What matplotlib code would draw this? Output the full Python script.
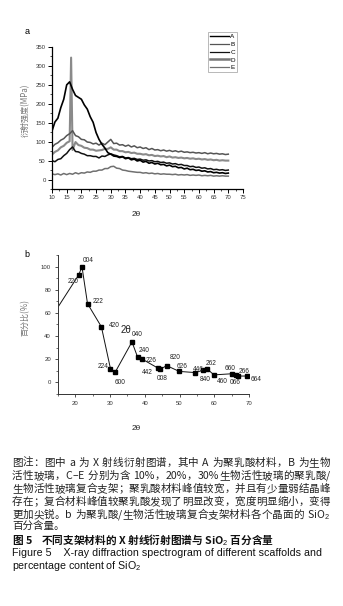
import re
import matplotlib
matplotlib.use("Agg")
import matplotlib.pyplot as plt
from matplotlib.ticker import MultipleLocator
from matplotlib.lines import Line2D

plt.rcParams['font.family'] = ['Liberation Sans', 'DejaVu Sans']
plt.rcParams['mathtext.fontset'] = 'custom'
plt.rcParams['mathtext.rm'] = 'Liberation Sans'
CJK = ['Noto Sans CJK SC', 'DejaVu Sans']

# ---------------- data: panel a (XRD) ----------------
two_theta = list(range(10, 71))
curve_A = [128, 152, 162, 190, 212, 250, 258, 238, 222, 217,
           212, 197, 186, 166, 151, 124, 106, 93, 83, 71,
           67, 62, 61, 58, 60, 55, 57, 52, 54, 49,
           51, 46, 48, 43, 45, 41, 43, 39, 40, 36,
           38, 34, 35, 31, 32, 28, 30, 26, 27, 24,
           25, 22, 23, 20, 21, 18, 19, 17, 18, 16,
           17]
curve_B = [85, 93, 97, 104, 108, 116, 121, 129, 116, 113,
           106, 105, 99, 98, 94, 96, 91, 96, 92, 99,
           106, 95, 96, 91, 92, 88, 91, 86, 89, 84,
           86, 82, 84, 79, 82, 78, 79, 76, 78, 75,
           77, 74, 76, 73, 75, 72, 73, 71, 72, 70,
           71, 69, 71, 68, 70, 68, 69, 67, 68, 66,
           67]
curve_C = [50, 47, 53, 55, 63, 69, 79, 86, 74, 73,
           69, 67, 63, 63, 61, 61, 57, 62, 61, 65,
           68, 65, 63, 60, 61, 57, 58, 55, 56, 53,
           54, 51, 52, 49, 50, 47, 48, 45, 46, 43,
           44, 41, 42, 39, 40, 37, 37, 34, 35, 32,
           33, 30, 31, 28, 29, 26, 27, 25, 26, 24,
           25]
two_theta_D = [10, 11, 12, 13, 14, 15, 16, 16.5] + list(range(17, 71))
curve_D = [66, 73, 77, 85, 89, 97, 101, 322,
           78, 99, 91, 89, 84, 83, 79, 79, 76, 77,
           78, 81, 81, 85, 79, 79, 75, 75, 72, 73,
           70, 71, 68, 68, 66, 67, 64, 65, 62, 63,
           61, 62, 59, 61, 58, 59, 57, 58, 56, 57,
           55, 56, 54, 55, 53, 54, 52, 53, 51, 52,
           50, 51, 50, 50]
curve_E = [15, 13, 15, 12, 16, 13, 16, 14, 18, 15,
           18, 17, 20, 19, 22, 22, 25, 25, 29, 29,
           34, 35, 30, 29, 25, 24, 22, 21, 20, 19,
           19, 17, 18, 16, 17, 15, 16, 14, 15, 14,
           14, 13, 14, 12, 13, 12, 13, 11, 12, 11,
           12, 10, 11, 10, 11, 9, 10, 9, 10, 9,
           9]
series_names = ['A', 'B', 'C', 'D', 'E']

# ---------------- data: panel b (SiO2 %) ----------------
b_theta = [15.2, 21.0, 21.9, 23.5, 27.5, 30.1, 31.5, 36.3, 37.9, 39.3,
           43.7, 44.5, 46.3, 49.9, 54.5, 56.8, 58.0, 59.9, 65.2, 66.2,
           66.9, 69.5]
b_percent = [66, 93, 100, 68, 48, 12, 9, 35, 22, 20,
             12.5, 11.5, 14.5, 9.5, 8.5, 10.5, 11.5, 6.5, 7.5, 6.5,
             5.5, 5.5]
b_planes = ['', '220', '004', '222', '420', '224', '600', '040', '240', '226',
            '442', '008', '820', '626', '446', '840', '262', '460', '660', '066',
            '266', '664']
b_label_offsets = [(0, 0), (-6, -7), (6, 6), (11, 2), (13, 1), (-7, 2), (5, -11),
                   (5, 7), (7, 6), (9, -1), (-10, -5), (2, -9), (8, 8), (3, 5),
                   (3, 3), (2, -9), (4, 6), (8, -7), (-2, 5), (-1, -8), (6, 5), (9, -3)]

W, H = 343, 606
fig = plt.figure(figsize=(W / 100, H / 100), dpi=100)


def fx(px):
    return px / W


def fy(py):
    return 1 - py / H


tick_col = '#333333'

# ---------------- panel a ----------------
axA = fig.add_axes([fx(52), fy(189), (243 - 52) / W, (189 - 47) / H])
axA.plot(two_theta, curve_E, color='#707070', lw=1.1)
axA.plot(two_theta_D, curve_D, color='#8a8a8a', lw=1.5)
axA.plot(two_theta, curve_B, color='#555555', lw=1.1)
axA.plot(two_theta, curve_C, color='#111111', lw=1.1)
axA.plot(two_theta, curve_A, color='#000000', lw=1.2)
axA.set_xlim(10, 75)
axA.set_ylim(-25, 350)
axA.xaxis.set_major_locator(MultipleLocator(5))
axA.xaxis.set_minor_locator(MultipleLocator(2.5))
axA.yaxis.set_major_locator(MultipleLocator(50))
axA.yaxis.set_minor_locator(MultipleLocator(25))
for s in ['top', 'right']:
    axA.spines[s].set_visible(False)
for s in ['left', 'bottom']:
    axA.spines[s].set_linewidth(0.9)
axA.tick_params(which='major', direction='out', length=3, width=0.7,
                labelsize=4.3, labelcolor=tick_col, pad=1.5)
axA.tick_params(which='minor', direction='out', length=1.6, width=0.5)

handles = [Line2D([], [], color='#000000', lw=1.0),
           Line2D([], [], color='#555555', lw=0.9),
           Line2D([], [], color='#111111', lw=0.9),
           Line2D([], [], color='#777777', lw=1.8),
           Line2D([], [], color='#707070', lw=0.9)]
leg = fig.legend(handles, series_names, loc='upper left',
                 bbox_to_anchor=(fx(208), fy(32)), fontsize=4.6,
                 handlelength=3.0, handletextpad=0.2, labelspacing=0.35,
                 borderpad=0.3, borderaxespad=0, frameon=True, fancybox=False)
leg.get_frame().set_edgecolor('#999999')
leg.get_frame().set_linewidth(0.6)

fig.text(fx(27), fy(32), 'a', fontsize=6.5, ha='center', va='center')
fig.text(fx(25), fy(110), '衍射强度(MPa)', family=CJK, fontsize=5.8,
         color='#777777', rotation=90, ha='center', va='center')
fig.text(fx(136), fy(215), '2θ', fontsize=6, ha='center', va='center', color='#222222')

# ---------------- panel b ----------------
axB = fig.add_axes([fx(58), fy(394), (249 - 58) / W, (394 - 255) / H])
axB.plot(b_theta, b_percent, color='#111111', lw=0.7, marker='s',
         markersize=3.0, markevery=list(range(1, len(b_theta))),
         markerfacecolor='#000000', markeredgecolor='#000000')
for xv, yv, lab, off in zip(b_theta, b_percent, b_planes, b_label_offsets):
    if lab:
        axB.annotate(lab, (xv, yv), xytext=off, textcoords='offset pixels',
                     fontsize=4.7, ha='center', va='center', color='#222222')
axB.set_xlim(15, 70)
axB.set_ylim(-10, 110)
axB.xaxis.set_major_locator(MultipleLocator(10))
axB.xaxis.set_minor_locator(MultipleLocator(5))
axB.yaxis.set_major_locator(MultipleLocator(20))
axB.yaxis.set_minor_locator(MultipleLocator(10))
for s in ['top', 'right']:
    axB.spines[s].set_visible(False)
for s in ['left', 'bottom']:
    axB.spines[s].set_linewidth(0.7)
    axB.spines[s].set_color('#333333')
axB.tick_params(which='major', direction='out', length=2.5, width=0.6,
                labelsize=4.3, labelcolor=tick_col, pad=2.5, color='#333333')
axB.tick_params(which='minor', direction='out', length=1.5, width=0.5, color='#333333')

fig.text(fx(126), fy(330), '2θ', fontsize=7, ha='center', va='center', color='#222222')
fig.text(fx(27), fy(254), 'b', fontsize=6.5, ha='center', va='center')
fig.text(fx(25), fy(318), '百分比(%)', family=CJK, fontsize=5.8,
         color='#777777', rotation=90, ha='center', va='center')
fig.text(fx(136), fy(428), '2θ', fontsize=6, ha='center', va='center', color='#222222')

# ---------------- caption ----------------
caption_lines = [
    '图注：图中 a 为 X 射线衍射图谱，其中 A 为聚乳酸材料，B 为生物',
    '活性玻璃，C–E 分别为含 10%，20%，30%生物活性玻璃的聚乳酸/',
    '生物活性玻璃复合支架；聚乳酸材料峰值较宽，并且有少量弱结晶峰',
    '存在；复合材料峰值较聚乳酸发现了明显改变，宽度明显缩小，变得',
    '更加尖锐。b 为聚乳酸/生物活性玻璃复合支架材料各个晶面的 SiO$_2$',
    '百分含量。',
]
cap_y = [463, 476, 489, 502, 515, 527]
cap_justify = [True, True, True, True, True, False]
CAP_LEFT, CAP_RIGHT = 12, 330
CAP_FS = 7.6

renderer = fig.canvas.get_renderer()


def token_width(tok):
    if tok == ' ':
        return CAP_FS * 100 / 72 * 0.28
    t = fig.text(0, 0, tok, family=CJK, fontsize=CAP_FS)
    w = t.get_window_extent(renderer).width
    t.remove()
    return w


for line, yy, just in zip(caption_lines, cap_y, cap_justify):
    if not just:
        fig.text(fx(CAP_LEFT), fy(yy), line, family=CJK, fontsize=CAP_FS,
                 color='#222222', ha='left', va='center')
        continue
    toks = re.findall(r'SiO\$_2\$|[A-Za-z0-9%]+|\s|.', line)
    widths = [token_width(t) for t in toks]
    extra = (CAP_RIGHT - CAP_LEFT) - sum(widths)
    gap = extra / max(len(toks) - 1, 1)
    xpos = CAP_LEFT
    for tok, w in zip(toks, widths):
        if tok != ' ':
            fig.text(fx(xpos), fy(yy), tok, family=CJK, fontsize=CAP_FS,
                     color='#222222', ha='left', va='center')
        xpos += w + gap

fig.text(fx(12), fy(540), '图 5    不同支架材料的 X 射线衍射图谱与 SiO$_2$ 百分含量',
         family=CJK, fontsize=7.7, color='#111111', weight='bold',
         ha='left', va='center')
fig.text(fx(12), fy(553), 'Figure 5    X-ray diffraction spectrogram of different scaffolds and',
         fontsize=7.65, color='#111111', ha='left', va='center')
fig.text(fx(12), fy(566), 'percentage content of SiO$_2$',
         fontsize=7.65, color='#111111', ha='left', va='center')

fig.savefig('out.png', dpi=100)
